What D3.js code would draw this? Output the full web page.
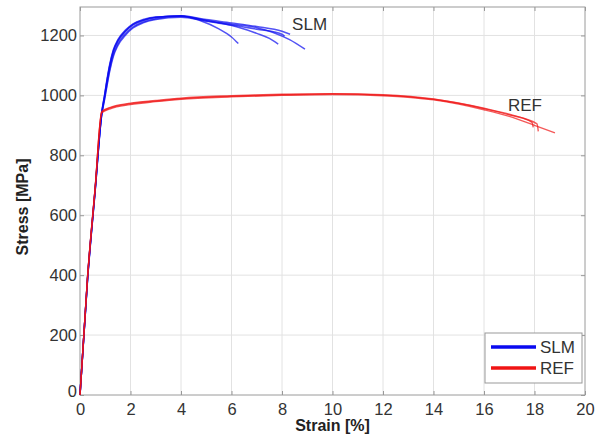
<!DOCTYPE html>
<html>
<head>
<meta charset="utf-8">
<script src="https://cdn.jsdelivr.net/npm/d3@7"></script>
<style>
  body { margin: 0; background: #fff; }
  svg { display: block; font-family: Arial, "Liberation Sans", sans-serif; }
  .tick text { fill: #333; font-size: 16.5px; }
  .axis-title { font-weight: bold; font-size: 16px; fill: #222; }
</style>
</head>
<body>
<svg id="chart" width="598" height="440"></svg>
<script>
// ===== Data (strain in %, stress in MPa) =====
const xTicks = [0, 2, 4, 6, 8, 10, 12, 14, 16, 18, 20];
const yTicks = [0, 200, 400, 600, 800, 1000, 1200];

// SLM specimens
const slm1Strain = [0, 0.3, 0.6, 0.86, 0.97, 1.07, 1.18, 1.32, 1.5, 1.8, 2.1, 2.5, 3, 4, 4.75, 5.5, 6, 6.27];
const slm1Stress = [0, 390, 685, 940, 995, 1048, 1098, 1146, 1180, 1213, 1235, 1250, 1260, 1266, 1250, 1222, 1195, 1173];
const slm2Strain = [0, 0.3, 0.6, 0.86, 0.97, 1.07, 1.18, 1.32, 1.5, 1.8, 2.1, 2.5, 3, 4, 5, 6.2, 7, 7.5, 7.85];
const slm2Stress = [0, 387, 681, 936, 988, 1038, 1088, 1136, 1172, 1206, 1229, 1245, 1256, 1264, 1251, 1229, 1207, 1190, 1171];
const slm3Strain = [0, 0.3, 0.6, 0.86, 0.97, 1.07, 1.18, 1.32, 1.5, 1.8, 2.1, 2.5, 3, 4, 5, 6, 7, 7.65, 8.3, 8.91];
const slm3Stress = [0, 393, 689, 944, 1000, 1054, 1105, 1152, 1186, 1218, 1239, 1253, 1262, 1264, 1249, 1238, 1226, 1210, 1186, 1154];
const slm4Strain = [0, 0.3, 0.6, 0.86, 0.97, 1.07, 1.18, 1.32, 1.5, 1.8, 2.1, 2.5, 3, 4, 5, 6, 7, 8, 8.32];
const slm4Stress = [0, 390, 686, 941, 997, 1050, 1101, 1149, 1183, 1215, 1237, 1251, 1261, 1266, 1253, 1242, 1230, 1214, 1204];
const slm5Strain = [0, 0.3, 0.6, 0.86, 0.97, 1.07, 1.18, 1.32, 1.5, 1.8, 2.1, 2.5, 3, 4, 5, 6, 7, 8, 8.1];
const slm5Stress = [0, 386, 680, 934, 984, 1032, 1082, 1130, 1166, 1201, 1225, 1242, 1253, 1261, 1247, 1235, 1221, 1204, 1198];

// REF specimens
const ref1Strain = [0, 0.3, 0.6, 0.86, 1.2, 2, 3, 4, 6, 8, 10, 12, 14, 16, 17, 18.1, 18.15];
const ref1Stress = [0, 395, 690, 944, 958, 972, 981, 989, 997, 1002, 1005, 1001, 987, 956, 935, 905, 880];
const ref2Strain = [0, 0.3, 0.6, 0.86, 1.2, 2, 3, 4, 6, 8, 10, 12, 14, 16, 17, 18, 18.81];
const ref2Stress = [0, 392, 688, 941, 955, 969, 979, 987, 995, 1000, 1003, 999, 985, 952, 930, 900, 875];
const ref3Strain = [0, 0.3, 0.6, 0.86, 1.2, 2, 3, 4, 6, 8, 10, 12, 14, 16, 17, 17.9, 17.95];
const ref3Stress = [0, 397, 692, 946, 960, 974, 983, 991, 999, 1004, 1006, 1002, 988, 957, 937, 910, 893];

const slmSeries = [[slm1Strain, slm1Stress], [slm2Strain, slm2Stress], [slm3Strain, slm3Stress],
                   [slm4Strain, slm4Stress], [slm5Strain, slm5Stress]];
const refSeries = [[ref1Strain, ref1Stress], [ref2Strain, ref2Stress], [ref3Strain, ref3Stress]];

const legendNames = ["SLM", "REF"];
const blue = "#0a0af0";
const red = "#f01414";

// ===== Layout =====
const svg = d3.select("#chart");
const margin = { top: 7, right: 13, bottom: 45, left: 80 };
const width = +svg.attr("width") - margin.left - margin.right;
const height = +svg.attr("height") - margin.top - margin.bottom;
const g = svg.append("g").attr("transform", `translate(${margin.left},${margin.top})`);

const x = d3.scaleLinear().domain([0, 20]).range([0, width]);
const y = d3.scaleLinear().domain([0, 1295]).range([height, 0]);

// grid
g.append("g").selectAll("line").data(xTicks.slice(1, -1)).join("line")
  .attr("x1", d => x(d)).attr("x2", d => x(d))
  .attr("y1", 0).attr("y2", height)
  .attr("stroke", "#e2e2e2");
g.append("g").selectAll("line").data(yTicks.slice(1)).join("line")
  .attr("x1", 0).attr("x2", width)
  .attr("y1", d => y(d)).attr("y2", d => y(d))
  .attr("stroke", "#e2e2e2");

// axes
g.append("g").attr("transform", `translate(0,${height})`)
  .call(d3.axisBottom(x).tickValues(xTicks).tickSize(-4).tickPadding(8).tickFormat(d3.format("d")));
const yAxis = g.append("g")
  .call(d3.axisLeft(y).tickValues(yTicks).tickSize(-4).tickPadding(3).tickFormat(d3.format("d")));
g.append("g").call(d3.axisTop(x).tickValues(xTicks).tickSize(-4).tickFormat(""));
g.append("g").attr("transform", `translate(${width},0)`)
  .call(d3.axisRight(y).tickValues(yTicks).tickSize(-4).tickFormat(""));
g.selectAll(".domain").remove();
g.selectAll(".tick line").attr("stroke", "#999");
yAxis.selectAll(".tick").filter(d => d === 0).select("text").attr("dy", "0.1em");

// plot box
g.append("rect").attr("width", width).attr("height", height)
  .attr("fill", "none").attr("stroke", "#9a9a9a");

// axis titles
svg.append("text").attr("class", "axis-title")
  .attr("x", margin.left + width / 2).attr("y", 431)
  .attr("text-anchor", "middle").text("Strain [%]");
svg.append("text").attr("class", "axis-title")
  .attr("transform", `translate(28,${margin.top + height / 2 + 6}) rotate(-90)`)
  .attr("text-anchor", "middle").text("Stress [MPa]");

// ===== Curves =====
const line = d3.line()
  .x(d => x(d[0]))
  .y(d => y(d[1]))
  .curve(d3.curveMonotoneX);

function draw(series, color, w) {
  series.forEach(([xs, ys]) => {
    g.append("path")
      .datum(xs.map((v, i) => [v, ys[i]]))
      .attr("fill", "none")
      .attr("stroke", color)
      .attr("stroke-width", w)
      .attr("stroke-opacity", 0.7)
      .attr("d", line);
  });
}
// blue first, red drawn over the shared elastic part
draw(slmSeries, blue, 1.5);
draw(refSeries, red, 1.4);

// inline labels
g.append("text").attr("x", x(8.4)).attr("y", y(1218))
  .style("font-size", "17px").attr("fill", "#333").text("SLM");
g.append("text").attr("x", x(16.95)).attr("y", y(947))
  .style("font-size", "17px").attr("fill", "#333").text("REF");

// ===== Legend =====
const lg = svg.append("g").attr("transform", "translate(485,333)");
lg.append("rect").attr("width", 97).attr("height", 50)
  .attr("fill", "#fff").attr("stroke", "#999");
legendNames.forEach((name, i) => {
  const yy = 14 + i * 21;
  lg.append("line").attr("x1", 6).attr("x2", 51).attr("y1", yy).attr("y2", yy)
    .attr("stroke", i === 0 ? blue : red).attr("stroke-width", 3.5);
  lg.append("text").attr("x", 55).attr("y", yy + 6)
    .style("font-size", "17px").attr("fill", "#333").text(name);
});
</script>
</body>
</html>
